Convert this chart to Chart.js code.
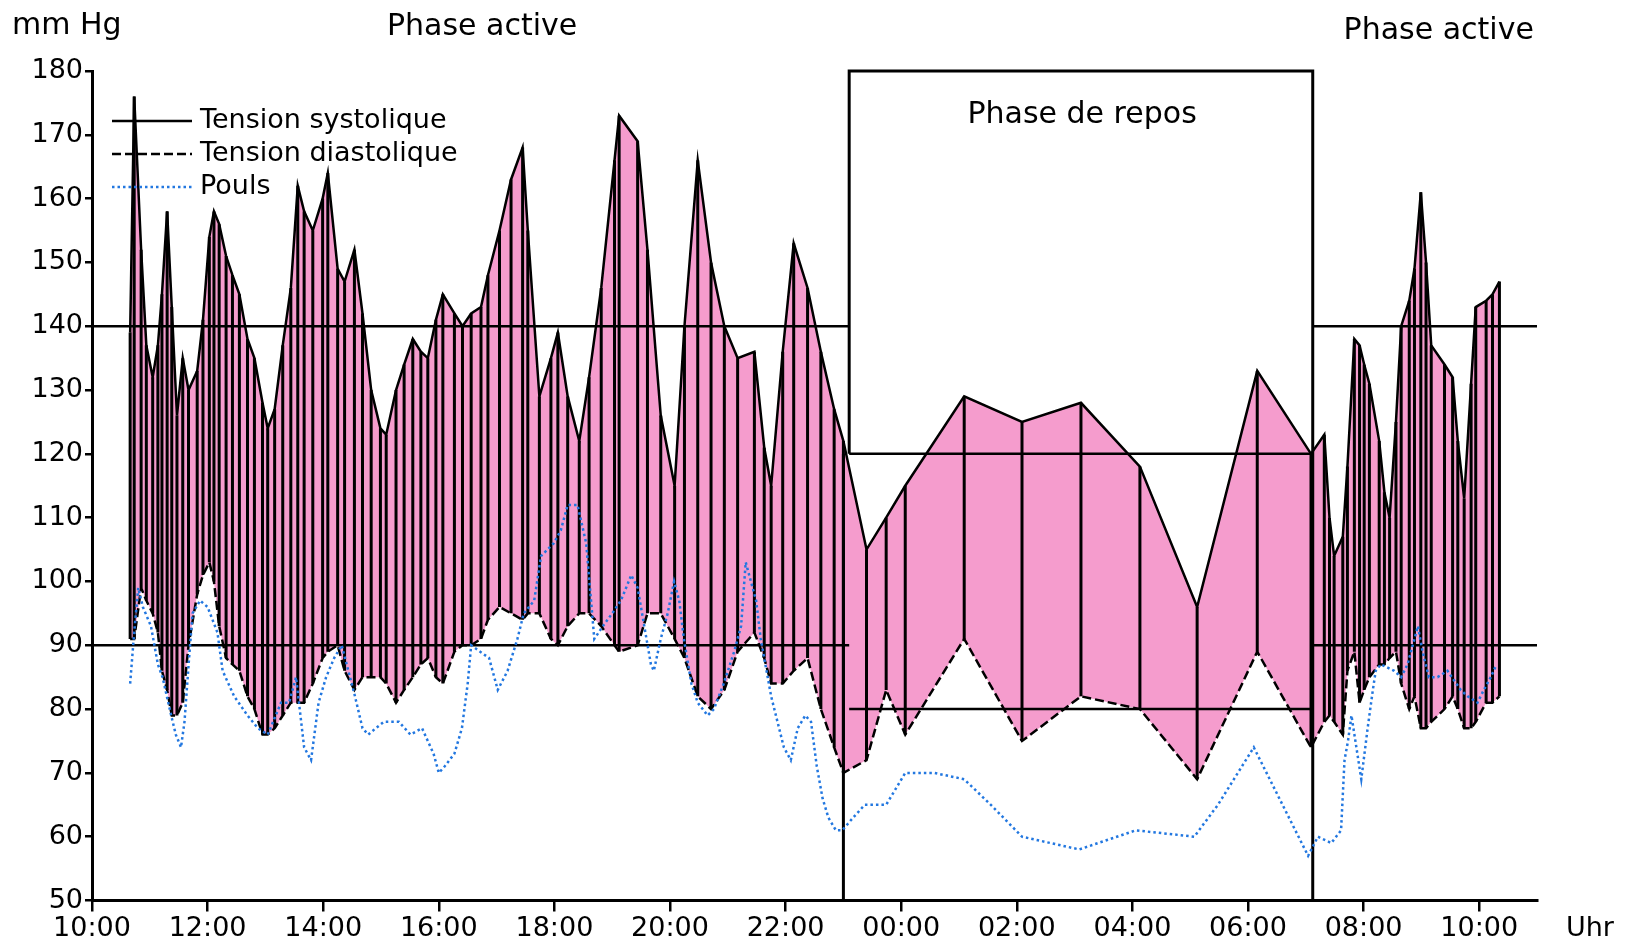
<!DOCTYPE html>
<html>
<head>
<meta charset="utf-8">
<script src="https://cdn.jsdelivr.net/npm/chart.js@4.4.0/dist/chart.umd.min.js"></script>
<style>
  html, body { margin: 0; padding: 0; background: #fff; }
</style>
</head>
<body>
<canvas id="bpChart" width="1625" height="943"></canvas>
<script>
// hours after 10:00 for each blood pressure reading
const measureTimes = [
  0.66, 0.73, 0.85, 0.94, 1.05, 1.14, 1.21, 1.30, 1.38, 1.47, 1.57, 1.67, 1.82, 1.92,
  2.03, 2.11, 2.20, 2.32, 2.43, 2.55, 2.69, 2.81, 2.95, 3.04, 3.16, 3.30, 3.44, 3.56,
  3.67, 3.82, 3.99, 4.08, 4.25, 4.37, 4.54, 4.68, 4.83, 4.99, 5.09, 5.26, 5.40, 5.55,
  5.69, 5.81, 5.95, 6.07, 6.27, 6.41, 6.56, 6.73, 6.85, 7.05, 7.25, 7.45, 7.54, 7.74,
  7.94, 8.06, 8.23, 8.43, 8.60, 8.81, 9.04, 9.12, 9.44, 9.61, 9.84, 10.08, 10.25, 10.48,
  10.71, 10.94, 11.17, 11.46, 11.63, 11.75, 11.95, 12.14, 12.38, 12.61, 12.84, 13.00,
  13.40, 13.74, 14.07, 15.09, 16.09, 17.11, 18.13, 19.12, 20.16, 21.09,
  21.32, 21.41, 21.49, 21.64, 21.72, 21.84, 21.93, 22.01, 22.10, 22.27, 22.36, 22.45,
  22.56, 22.65, 22.79, 22.88, 22.99, 23.08, 23.17, 23.40, 23.54, 23.63, 23.74, 23.86,
  23.94, 24.12, 24.23, 24.35
];
const systolic = [
  139, 176, 152, 137, 132, 137, 145, 158, 143, 126, 135, 130, 133, 141,
  154, 158, 156, 151, 148, 145, 138, 135, 128, 124, 127, 137, 146, 162,
  158, 155, 160, 164, 149, 147, 152, 142, 130, 124, 123, 130, 134, 138,
  136, 135, 141, 145, 142, 140, 142, 143, 148, 155, 163, 168, 155, 129,
  135, 139, 129, 122, 132, 146, 166, 173, 169, 152, 126, 115, 140, 166,
  150, 140, 135, 136, 121, 115, 136, 153, 146, 136, 127, 122,
  105, 110, 115, 129, 125, 128, 118, 96, 133, 120,
  123, 110, 104, 107, 118, 138, 137, 134, 131, 122, 114, 110,
  125, 140, 144, 149, 161, 150, 137, 134, 132, 122, 113, 131,
  143, 144, 145, 147
];
const diastolic = [
  91, 91, 99, 97, 95, 92, 86, 83, 79, 79, 81, 90, 98, 101,
  103, 100, 93, 88, 87, 86, 82, 80, 76, 76, 77, 79, 81, 81,
  81, 84, 88, 89, 90, 86, 83, 85, 85, 85, 84, 81, 83, 85,
  87, 88, 85, 84, 89, 90, 90, 91, 94, 96, 95, 94, 95, 95,
  91, 90, 93, 95, 95, 93, 90, 89, 90, 95, 95, 91, 88, 82,
  80, 83, 89, 92, 88, 84, 84, 86, 88, 80, 74, 70,
  72, 83, 76, 91, 75, 82, 80, 69, 89, 74,
  78, 79, 78, 76, 86, 89, 81, 83, 85, 87, 87, 88,
  89, 84, 80, 82, 77, 77, 78, 80, 82, 80, 77, 77,
  78, 81, 81, 82
];
const pulseTimes = [
  0.66, 0.73, 0.80, 0.88, 1.02, 1.14, 1.22, 1.37, 1.45, 1.54, 1.60, 1.68, 1.74, 1.87,
  2.00, 2.17, 2.26, 2.46, 2.69, 2.87, 3.04, 3.27, 3.41, 3.53, 3.67, 3.79, 3.92, 4.05,
  4.19, 4.32, 4.55, 4.68, 4.78, 4.91, 5.05, 5.31, 5.51, 5.71, 5.91, 6.00, 6.10, 6.27,
  6.40, 6.50, 6.56, 6.87, 7.02, 7.19, 7.36, 7.47, 7.65, 7.77, 7.99, 8.11, 8.23, 8.40,
  8.55, 8.69, 8.84, 9.00, 9.15, 9.33, 9.44, 9.67, 9.72, 9.84, 9.96, 10.07, 10.16, 10.24,
  10.37, 10.48, 10.65, 10.76, 10.93, 11.11, 11.23, 11.31, 11.49, 11.57, 11.75, 11.86,
  11.97, 12.09, 12.21, 12.34, 12.44, 12.54, 12.64, 12.74, 12.87, 12.98,
  13.17, 13.37, 13.74, 14.07, 14.57, 15.09, 15.55, 16.09, 17.08, 18.06, 19.07, 19.48,
  20.10, 21.04, 21.21, 21.44, 21.61, 21.67, 21.73, 21.79, 21.96, 22.07, 22.16, 22.21,
  22.30, 22.53, 22.65, 22.76, 22.85, 22.94, 23.02, 23.13, 23.28, 23.45, 23.68, 23.80,
  23.97, 24.08, 24.20, 24.30
];
const pulseValues = [
  84, 92, 99, 96, 93, 87, 85, 79, 76, 74, 78, 88, 95, 97,
  96, 92, 86, 82, 79, 77, 76, 81, 81, 85, 74, 72, 81, 85,
  88, 90, 82, 77, 76, 77, 78, 78, 76, 77, 73, 70, 71, 73,
  77, 84, 90, 88, 83, 86, 91, 95, 97, 104, 106, 108, 112, 112,
  106, 91, 93, 95, 97, 101, 99, 87, 86, 91, 95, 100, 97, 91,
  84, 81, 79, 80, 84, 89, 93, 103, 97, 91, 82, 78,
  74, 72, 77, 79, 78, 71, 66, 63, 61, 61,
  63, 65, 65, 70, 70, 69, 65, 60, 58, 61, 60, 65,
  74, 57, 60, 59, 61, 72, 75, 79, 69, 77, 83, 86,
  87, 86, 85, 87, 90, 93, 89, 85, 85, 86, 83, 82,
  81, 83, 85, 87
];
const hourLabels = ['10:00', '12:00', '14:00', '16:00', '18:00', '20:00', '22:00',
  '00:00', '02:00', '04:00', '06:00', '08:00', '10:00'];

// reference limits per phase: active, rest, active
const phaseStarts = [0, 13.1, 21.12];
const phaseEnds = [13.1, 21.12, 25];
const upperLimits = [140, 120, 140];
const lowerLimits = [90, 80, 90];
const restSplit = 13.0;

function pts(xs, ys) {
  return xs.map((t, i) => ({x: t, y: ys[i]}));
}

// one black stroke per reading, from diastolic up to systolic
const readingLines = [];
measureTimes.forEach((t, i) => {
  readingLines.push({x: t, y: diastolic[i]}, {x: t, y: systolic[i]}, {x: t, y: null});
});

const limitLines = [];
phaseStarts.forEach((s, i) => {
  limitLines.push({x: s, y: upperLimits[i]}, {x: phaseEnds[i], y: upperLimits[i]}, {x: s, y: null});
  limitLines.push({x: s, y: lowerLimits[i]}, {x: phaseEnds[i], y: lowerLimits[i]}, {x: s, y: null});
});

// rest phase frame
const restFrame = [
  {x: phaseStarts[1], y: upperLimits[1]}, {x: phaseStarts[1], y: 180},
  {x: phaseEnds[1], y: 180}, {x: phaseEnds[1], y: 50}, {x: phaseEnds[1], y: null},
  {x: restSplit, y: 50}, {x: restSplit, y: upperLimits[1]}
];

const legendOrder = ['Tension systolique', 'Tension diastolique', 'Pouls'];

const overlay = {
  id: 'overlay',
  afterDraw(chart) {
    const {ctx, scales: {x, y}} = chart;
    ctx.save();
    ctx.fillStyle = '#000';
    ctx.textBaseline = 'middle';
    ctx.font = '30px "DejaVu Sans"';
    ctx.textAlign = 'left';
    ctx.fillText('mm Hg', 12, 26);
    ctx.textAlign = 'center';
    ctx.fillText('Phase active', x.getPixelForValue(6.75), 27);
    ctx.fillText('Phase active', x.getPixelForValue(23.3), 31);
    ctx.fillText('Phase de repos', x.getPixelForValue(17.13), y.getPixelForValue(173));
    ctx.font = '27px "DejaVu Sans"';
    ctx.textAlign = 'left';
    ctx.fillText('Uhr', 1566, 929);

    // legend
    legendOrder.forEach((name, i) => {
      const d = chart.data.datasets.find(ds => ds.label === name);
      const ly = 121 + i * 33;
      ctx.strokeStyle = d.borderColor;
      ctx.lineWidth = d.borderWidth;
      ctx.setLineDash(d.borderDash || []);
      ctx.beginPath();
      ctx.moveTo(112, ly);
      ctx.lineTo(192, ly);
      ctx.stroke();
      ctx.setLineDash([]);
      ctx.fillText(d.label, 200, ly);
    });
    ctx.restore();
  }
};

Chart.defaults.font.family = '"DejaVu Sans", sans-serif';
Chart.defaults.color = '#000';

const ctx = document.getElementById('bpChart').getContext('2d');
const bpChart = new Chart(ctx, {
  type: 'line',
  data: {
    datasets: [
      {
        label: 'Pouls',
        data: pts(pulseTimes, pulseValues),
        borderColor: '#2277e0',
        borderWidth: 2.5,
        borderDash: [2.5, 3],
        pointRadius: 0,
        order: 0
      },
      {
        label: 'Tension systolique',
        data: pts(measureTimes, systolic),
        borderColor: '#000',
        borderWidth: 2.5,
        backgroundColor: '#f59ccd',
        fill: '+1',
        pointRadius: 0,
        order: 1
      },
      {
        label: 'Tension diastolique',
        data: pts(measureTimes, diastolic),
        borderColor: '#000',
        borderWidth: 2.5,
        borderDash: [9, 4],
        pointRadius: 0,
        order: 2
      },
      {
        label: 'readings',
        data: readingLines,
        borderColor: '#000',
        borderWidth: 3,
        pointRadius: 0,
        spanGaps: false,
        order: 3
      },
      {
        label: 'limits',
        data: limitLines,
        borderColor: '#000',
        borderWidth: 2.5,
        pointRadius: 0,
        spanGaps: false,
        order: 4
      },
      {
        label: 'rest',
        data: restFrame,
        borderColor: '#000',
        borderWidth: 3,
        pointRadius: 0,
        spanGaps: false,
        clip: 4,
        order: 4
      }
    ]
  },
  options: {
    responsive: false,
    animation: false,
    layout: { padding: { top: 71, right: 88, left: 0, bottom: 0 } },
    plugins: {
      legend: { display: false },
      tooltip: { enabled: false },
      filler: { drawTime: 'beforeDatasetsDraw' }
    },
    scales: {
      x: {
        type: 'linear',
        min: 0,
        max: 25,
        afterFit: (scale) => { scale.height = 42.5; },
        ticks: {
          stepSize: 2,
          includeBounds: false,
          maxRotation: 0,
          padding: 1,
          font: { size: 27 },
          callback: (v) => hourLabels[Math.round(v / 2)] || ''
        },
        grid: { drawOnChartArea: false, tickLength: 11, color: '#000', lineWidth: 2.5 },
        border: { color: '#000', width: 3 }
      },
      y: {
        min: 50,
        max: 180,
        afterFit: (scale) => { scale.width = 92; },
        ticks: { stepSize: 10, padding: 2, font: { size: 27 } },
        grid: { drawOnChartArea: false, tickLength: 7, color: '#000', lineWidth: 2.5 },
        border: { color: '#000', width: 3 }
      }
    }
  },
  plugins: [overlay]
});
</script>
</body>
</html>
